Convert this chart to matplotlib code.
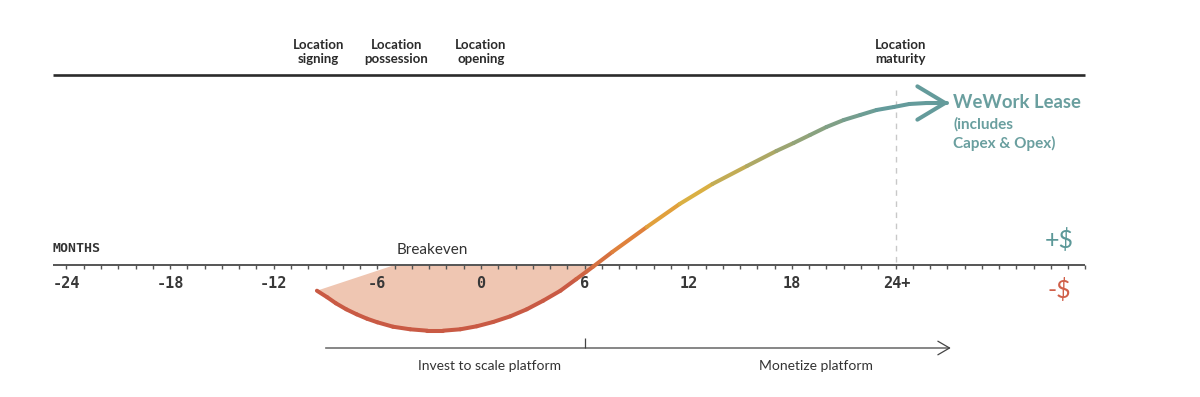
import matplotlib
matplotlib.use("Agg")
import matplotlib.pyplot as plt
import numpy as np
from matplotlib.collections import LineCollection
from matplotlib.colors import LinearSegmentedColormap

# curve (month, relative $)
curve_months = [-9.5, -8.9, -8.4, -7.8, -7.2, -6.6, -6.0, -5.1, -4.1, -3.1, -2.2, -1.2,
                -0.25, 0.7, 1.7, 2.65, 3.6, 4.6, 5.5, 6.1, 6.5, 7.6, 9.6, 11.5,
                13.4, 15.4, 17.1, 18.1, 19.05, 20.0, 21.0, 21.95, 22.9, 23.9, 24.8,
                25.8, 27.0]
curve_values = [-25.7, -32.3, -38.3, -44.3, -49.3, -53.7, -57.3, -61.7, -64.3, -65.7, -65.7, -64.3,
                -61.3, -57.0, -51.3, -44.3, -35.7, -25.7, -14.3, -6.7, -1.5, 13, 38, 61,
                81, 99, 114, 122, 130, 138, 145, 150, 155, 158, 161,
                162, 162]
fill_edge_month = -5.0  # where the shaded area meets the axis

tick_months = [-24, -18, -12, -6, 0, 6, 12, 18, 24]
tick_labels = ["-24", "-18", "-12", "-6", "0", "6", "12", "18", "24+"]

milestone_months = [-9.4, -4.9, 0.0, 24.3]
milestone_labels = ["Location\nsigning", "Location\npossession", "Location\nopening", "Location\nmaturity"]

phase_labels = ["Invest to scale platform", "Monetize platform"]
phase_centers = [0.5, 19.4]

RED = "#c95a44"
TEAL = "#649b9b"
DARK = "#2b2b2b"

fig = plt.figure(figsize=(12, 3.97), dpi=100)
ax = fig.add_axes([0, 0, 1, 1])
ax.set_xlim(-27.85, 41.63)
ax.set_ylim(-132, 265)
ax.axis("off")

# axis line with monthly ticks
ax.hlines(0, -24.8, 35.0, color="#555555", lw=1.4, zorder=2)
ax.vlines(np.arange(-24, 36), -4, 0, color="#555555", lw=1.0, zorder=2)
for m, lab in zip(tick_months, tick_labels):
    if lab == "24+":
        ax.text(23.3, -19, lab, ha="left", va="center", fontsize=11,
                family="DejaVu Sans Mono", fontweight="bold", color="#383838")
    else:
        ax.text(m, -19, lab, ha="center", va="center", fontsize=11,
                family="DejaVu Sans Mono", fontweight="bold", color="#383838")

# top line and milestone labels
ax.hlines(190, -24.8, 35.0, color=DARK, lw=1.9)
for m, lab in zip(milestone_months, milestone_labels):
    ax.text(m, 213, lab, ha="center", va="center", fontsize=9.5, family="Lato",
            fontweight="bold", color=DARK, linespacing=1.2)

# maturity dashed marker
ax.vlines(24.0, 3, 175, color="#c8c8c8", lw=1.0, linestyles=(0, (4, 4)))

# shaded negative area
neg = [i for i, v in enumerate(curve_values) if v <= 0]
fx = [curve_months[i] for i in neg] + [6.6, fill_edge_month, curve_months[0]]
fy = [curve_values[i] for i in neg] + [0, 0, curve_values[0]]
ax.fill(fx, fy, color="#efc6b2", lw=0, zorder=1)

# gradient curve
xs = np.array(curve_months, dtype=float)
ys = np.array(curve_values, dtype=float)
pts = np.column_stack([xs, ys]).reshape(-1, 1, 2)
segs = np.concatenate([pts[:-1], pts[1:]], axis=1)
cmap = LinearSegmentedColormap.from_list(
    "lease", [(0.0, RED), (0.4, RED), (0.5, "#e0833c"), (0.58, "#e2b23c"),
              (0.75, "#9aa574"), (0.9, TEAL), (1.0, TEAL)])
mid = (xs[:-1] + xs[1:]) / 2
norm = (mid - xs[0]) / (xs[-1] - xs[0])
lc = LineCollection(segs, colors=cmap(norm), linewidths=2.9, capstyle="round",
                    joinstyle="round", zorder=3)
ax.add_collection(lc)
ax.annotate("", xy=(xs[-1] + 0.1, ys[-1]), xytext=(xs[-2], ys[-2]),
            arrowprops=dict(arrowstyle="->,head_length=1.0,head_width=0.6",
                            color=TEAL, lw=2.9, mutation_scale=20, shrinkA=0, shrinkB=0),
            zorder=3)

ax.text(27.35, 162, "WeWork Lease", ha="left", va="center", fontsize=13.3,
        family="Lato", fontweight="bold", color="#6a9f9f")
ax.text(27.35, 141, "(includes", ha="left", va="center", fontsize=11,
        family="Lato", fontweight="bold", color="#6a9f9f")
ax.text(27.35, 122, "Capex & Opex)", ha="left", va="center", fontsize=11,
        family="Lato", fontweight="bold", color="#6a9f9f")

ax.text(33.5, 25, "+$", ha="center", va="center", fontsize=18, family="Lato", color="#5c9898")
ax.text(33.5, -25, "-$", ha="center", va="center", fontsize=18, family="Lato", color="#d0604a")

ax.text(-24.8, 17, "MONTHS", ha="left", va="center", fontsize=9.5,
        family="DejaVu Sans Mono", fontweight="bold", color="#333333")
ax.text(-2.8, 15, "Breakeven", ha="center", va="center", fontsize=11,
        family="Lato", color="#333333")

# bottom phase arrow
ax.annotate("", xy=(27.2, -83), xytext=(-9.0, -83),
            arrowprops=dict(arrowstyle="->,head_length=0.6,head_width=0.35",
                            color="#444444", lw=0.9, mutation_scale=14, shrinkA=0, shrinkB=0))
ax.vlines(6.0, -83, -73, color="#444444", lw=0.9)
for c, lab in zip(phase_centers, phase_labels):
    ax.text(c, -101, lab, ha="center", va="center", fontsize=10, family="Lato", color="#333333")

fig.savefig("out.png", dpi=100)
